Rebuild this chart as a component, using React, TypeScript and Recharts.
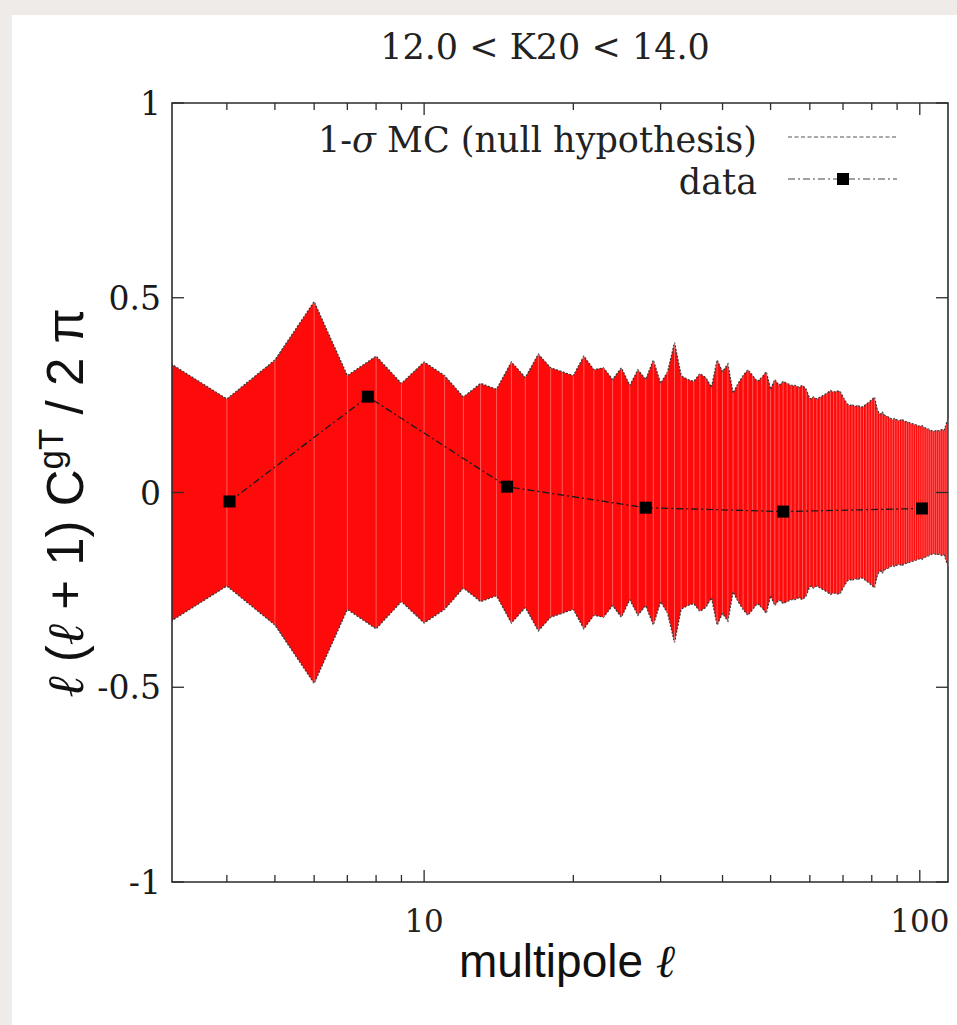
import React from "react";
import {
  ComposedChart,
  Area,
  Line,
  XAxis,
  YAxis,
  ReferenceLine,
  ReferenceArea,
  Legend,
} from "recharts";

// 1-sigma MC half-width, one value per multipole l = 3 .. 114
const SIGMA = [
  0.34, 0.24, 0.34, 0.49, 0.3, 0.35, 0.28, 0.335, 0.3, 0.245,
  0.28, 0.265, 0.335, 0.295, 0.355, 0.32, 0.31, 0.3, 0.35, 0.315,
  0.32, 0.29, 0.32, 0.275, 0.315, 0.29, 0.34, 0.28, 0.31, 0.385,
  0.3, 0.29, 0.285, 0.305, 0.295, 0.27, 0.34, 0.31, 0.33, 0.255,
  0.28, 0.3, 0.315, 0.3, 0.285, 0.295, 0.31, 0.265, 0.29, 0.275,
  0.285, 0.28, 0.275, 0.275, 0.27, 0.275, 0.265, 0.24, 0.245, 0.24,
  0.245, 0.25, 0.255, 0.262, 0.258, 0.26, 0.26, 0.245, 0.232, 0.222,
  0.226, 0.22, 0.224, 0.218, 0.221, 0.227, 0.232, 0.238, 0.245, 0.215,
  0.2, 0.206, 0.198, 0.195, 0.192, 0.187, 0.19, 0.186, 0.184, 0.188,
  0.183, 0.182, 0.18, 0.177, 0.176, 0.174, 0.172, 0.17, 0.172, 0.167,
  0.165, 0.163, 0.16, 0.158, 0.157, 0.16, 0.158, 0.16, 0.162, 0.16,
  0.175, 0.19,
];
const FIRST_L = 3;

// binned measurement
const POINT_L = [4.05, 7.7, 14.7, 28, 53, 101];
const POINT_C = [-0.023, 0.246, 0.015, -0.039, -0.049, -0.041];

const X_TICKS = [4, 5, 6, 7, 8, 9, 10, 20, 30, 40, 50, 60, 70, 80, 90, 100];
const X_LABELED = [10, 100];
const Y_TICKS = [-1, -0.5, 0, 0.5, 1];
const Y_TICK_LABELS = ["-1", "-0.5", "0", "0.5", "1"];

const TITLE = "12.0 < K20 < 14.0";
const LEGEND_DATA = "data";

const band = SIGMA.map((s, i) => ({ l: FIRST_L + i, band: [-s, s] }));
const points = POINT_L.map((l, i) => ({ l, c: POINT_C[i] }));

const W = 957;
const H = 1025;
const Y_AXIS_W = 60;
const X_AXIS_H = 40;
const MARGIN = { top: 103, right: 9, bottom: 103, left: 112 };
const PLOT = {
  left: MARGIN.left + Y_AXIS_W,
  right: W - MARGIN.right,
  top: MARGIN.top,
  bottom: H - MARGIN.bottom - X_AXIS_H,
};

const SERIF = "'DejaVu Serif', serif";
const SANS = "'Liberation Sans', Arial, sans-serif";
const INK = "#2b2b2b";

function XTick(props: any) {
  const { x, payload } = props;
  const v = payload.value;
  const major = X_LABELED.includes(v);
  const len = major ? 12 : 7;
  return (
    <g>
      <line x1={x} x2={x} y1={PLOT.bottom} y2={PLOT.bottom - len} stroke={INK} strokeWidth={1.3} />
      <line x1={x} x2={x} y1={PLOT.top} y2={PLOT.top + len} stroke={INK} strokeWidth={1.3} />
      {major && (
        <text x={x} y={PLOT.bottom + 50} textAnchor="middle" fontFamily={SERIF} fontSize={31} fill="#222">
          {v}
        </text>
      )}
    </g>
  );
}

function YTick(props: any) {
  const { y, payload } = props;
  const idx = Y_TICKS.indexOf(payload.value);
  return (
    <g>
      <line x1={PLOT.left} x2={PLOT.left + 12} y1={y} y2={y} stroke={INK} strokeWidth={1.3} />
      <line x1={PLOT.right} x2={PLOT.right - 12} y1={y} y2={y} stroke={INK} strokeWidth={1.3} />
      <text x={PLOT.left - 11} y={y + 12} textAnchor="end" fontFamily={SERIF} fontSize={33} fill="#1a1a1a">
        {Y_TICK_LABELS[idx]}
      </text>
    </g>
  );
}

function Square(props: any) {
  const { cx, cy } = props;
  if (cx == null || cy == null) return null;
  return <rect x={cx - 6} y={cy - 6} width={12} height={12} fill="#000" />;
}

function LegendBox() {
  const textX = 757;
  const x1 = 788;
  const x2 = 897;
  return (
    <div style={{ position: "relative", width: 0, height: 0 }}>
      <svg
        width={W}
        height={220}
        style={{ position: "absolute", left: 0, top: 0, overflow: "visible" }}
      >
        <text x={textX} y={152} textAnchor="end" fontFamily={SERIF} fontSize={35} fill="#222">
          {"1-"}
          <tspan fontStyle="italic">{"\u03c3"}</tspan>
          {" MC (null hypothesis)"}
        </text>
        <line x1={x1} x2={x2} y1={137} y2={137} stroke="#555" strokeWidth={1.2} strokeDasharray="4 2.5" />
        <text x={textX} y={194} textAnchor="end" fontFamily={SERIF} fontSize={35} fill="#222">
          {LEGEND_DATA}
        </text>
        <line x1={x1} x2={x2} y1={179} y2={179} stroke="#444" strokeWidth={1.2} strokeDasharray="7 3 2 3" />
        <rect x={843 - 6} y={179 - 6} width={12} height={12} fill="#000" />
      </svg>
    </div>
  );
}

export default function App() {
  return (
    <div style={{ position: "absolute", left: 0, top: 0, width: W, height: H, background: "#efebe8" }}>
      <div style={{ position: "absolute", left: 12, top: 15, width: W - 12, height: H - 15, background: "#fff" }} />
      <div
        style={{
          position: "absolute",
          left: 0,
          top: 27,
          width: 1090,
          textAlign: "center",
          fontFamily: SERIF,
          fontSize: 35,
          color: "#222",
          lineHeight: "40px",
        }}
      >
        {TITLE}
      </div>
      <div style={{ position: "absolute", left: 0, top: 0 }}>
        <ComposedChart width={W} height={H} data={band} margin={MARGIN}>
          <XAxis
            dataKey="l"
            type="number"
            scale="log"
            domain={[3.1, 114]}
            allowDataOverflow
            ticks={X_TICKS}
            interval={0}
            height={X_AXIS_H}
            axisLine={false}
            tickLine={false}
            tick={<XTick />}
            label={{
              content: () => (
                <text x={567} y={977} textAnchor="middle" fontFamily={SANS} fontSize={46} fill="#111">
                  multipole <tspan fontFamily={SERIF} fontStyle="italic">{"\u2113"}</tspan>
                </text>
              ),
            }}
          />
          <YAxis
            type="number"
            domain={[-1, 1]}
            ticks={Y_TICKS}
            interval={0}
            width={Y_AXIS_W}
            axisLine={false}
            tickLine={false}
            tick={<YTick />}
            label={{
              content: () => (
                <text
                  transform="translate(83,503) rotate(-90)"
                  textAnchor="middle"
                  fontFamily={SANS}
                  fontSize={51}
                  fill="#111"
                >
                  <tspan fontFamily={SERIF} fontStyle="italic">{"\u2113"}</tspan>
                  {" ("}
                  <tspan fontFamily={SERIF} fontStyle="italic">{"\u2113"}</tspan>
                  {" + 1) C"}
                  <tspan dy={-20} fontSize={35}>gT</tspan>
                  <tspan dy={20}>{" / 2 \u03c0"}</tspan>
                </text>
              ),
            }}
          />
          <Legend content={() => <LegendBox />} wrapperStyle={{ left: 0, top: 0, width: 0, height: 0 }} />
          <Area
            dataKey="band"
            type="linear"
            fill="#ff0a0a"
            fillOpacity={1}
            stroke="#3a3a3a"
            strokeWidth={1.3}
            strokeDasharray="2 1.5"
            isAnimationActive={false}
            activeDot={false}
            dot={false}
          />
          {band.map((d) => (
            <ReferenceLine
              key={d.l}
              segment={[
                { x: d.l, y: d.band[0] },
                { x: d.l, y: d.band[1] },
              ]}
              stroke="#ffffff"
              strokeOpacity={0.33}
              strokeWidth={1}
            />
          ))}
          <Line
            data={points}
            dataKey="c"
            type="linear"
            stroke="#1a1a1a"
            strokeWidth={1.3}
            strokeDasharray="7 3 2 3"
            dot={<Square />}
            activeDot={false}
            isAnimationActive={false}
          />
          <ReferenceArea
            x1={3.1}
            x2={114}
            y1={-1}
            y2={1}
            fill="none"
            stroke={INK}
            strokeWidth={1.6}
            ifOverflow="visible"
          />
        </ComposedChart>
      </div>
    </div>
  );
}
